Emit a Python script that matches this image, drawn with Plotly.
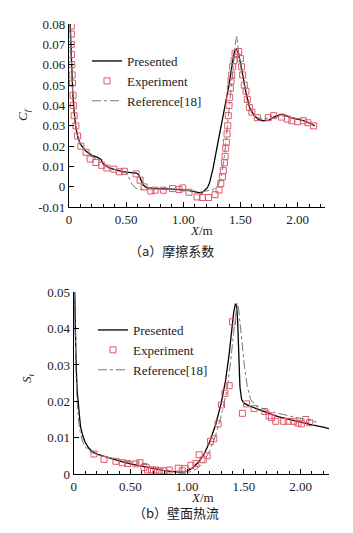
import plotly.graph_objects as go

# ---------------- (a) skin friction coefficient ----------------
cf_pres_x = [0.004, 0.012, 0.022, 0.032, 0.045, 0.06, 0.08, 0.1, 0.12, 0.15, 0.2, 0.25, 0.28, 0.3, 0.35,
             0.4, 0.45, 0.5, 0.55, 0.59, 0.61, 0.63, 0.65, 0.68, 0.75, 0.85, 0.95, 1.05, 1.12, 1.16,
             1.18, 1.21, 1.23, 1.26, 1.29, 1.32, 1.36, 1.40, 1.43, 1.45, 1.465, 1.48, 1.5, 1.52,
             1.55, 1.58, 1.62, 1.66, 1.7, 1.75, 1.8, 1.85, 1.88, 1.92, 1.97, 2.02, 2.07, 2.12, 2.15]
cf_pres_y = [0.09, 0.076, 0.06, 0.047, 0.037, 0.029, 0.024, 0.021, 0.0195, 0.0175, 0.0155, 0.0145, 0.0135,
             0.0112, 0.0094, 0.0085, 0.0078, 0.0073, 0.0069, 0.0068, 0.006, 0.0035, 0.0008, -0.0003,
             -0.0008, -0.001, -0.0012, -0.0018, -0.0025, -0.003, -0.002, -0.0005, 0.002, 0.009, 0.018,
             0.027, 0.038, 0.05, 0.061, 0.067, 0.0675, 0.066, 0.061, 0.055, 0.046, 0.039, 0.035,
             0.033, 0.0325, 0.0328, 0.0345, 0.0355, 0.0355, 0.0345, 0.0335, 0.033, 0.0322, 0.031, 0.030]

cf_exp_x = [0.02, 0.02, 0.02, 0.022, 0.025, 0.028, 0.03, 0.035, 0.038, 0.045, 0.06, 0.075, 0.104, 0.15,
            0.185, 0.235, 0.287, 0.331, 0.392, 0.44, 0.485, 0.587, 0.622, 0.657, 0.716, 0.754, 0.826,
            0.905, 0.963, 0.995, 1.05, 1.12, 1.167, 1.22, 1.278, 1.313, 1.328, 1.342, 1.35, 1.36,
            1.366, 1.371, 1.377, 1.383, 1.389, 1.394, 1.40, 1.406, 1.412, 1.418, 1.424, 1.432, 1.444,
            1.453, 1.485, 1.50, 1.51, 1.52, 1.534, 1.549, 1.56, 1.578, 1.60, 1.648, 1.744, 1.79, 1.86,
            1.91, 1.95, 2.0, 2.05, 2.09, 2.14]
cf_exp_y = [0.079, 0.075, 0.070, 0.065, 0.060, 0.055, 0.051, 0.045, 0.040, 0.035, 0.030, 0.025, 0.020,
            0.017, 0.0137, 0.012, 0.0106, 0.0093, 0.0087, 0.0074, 0.0077, 0.0064, 0.0033, 0.0, -0.002,
            -0.0016, -0.0016, -0.0008, -0.0013, -0.0005, -0.0026, -0.0049, -0.0052, -0.0052, -0.0038,
            -0.0015, 0.0016, 0.005, 0.008, 0.0118, 0.015, 0.019, 0.022, 0.026, 0.030, 0.035, 0.040,
            0.044, 0.0485, 0.052, 0.055, 0.059, 0.062, 0.0656, 0.0665, 0.063, 0.059, 0.055, 0.050,
            0.047, 0.043, 0.039, 0.0367, 0.034, 0.034, 0.035, 0.0343, 0.0333, 0.0325, 0.032, 0.0325,
            0.0315, 0.030]

cf_ref_x = [0.004, 0.012, 0.022, 0.035, 0.05, 0.065, 0.08, 0.1, 0.15, 0.2, 0.25, 0.3, 0.35, 0.4, 0.45,
            0.5, 0.52, 0.55, 0.58, 0.62, 0.7, 0.8, 0.9, 1.0, 1.1, 1.15, 1.2, 1.25, 1.3, 1.33, 1.36,
            1.39, 1.42, 1.44, 1.46, 1.47, 1.48, 1.5, 1.53, 1.56, 1.6, 1.65, 1.7, 1.8, 1.85, 1.9, 2.0,
            2.1, 2.15]
cf_ref_y = [0.085, 0.072, 0.057, 0.042, 0.033, 0.027, 0.024, 0.0205, 0.017, 0.015, 0.0135, 0.011, 0.0093,
            0.0085, 0.0078, 0.007, 0.005, 0.0015, -0.0005, -0.0012, -0.001, -0.0012, -0.0012, -0.0015,
            -0.002, -0.0025, -0.002, -0.0015, 0.0, 0.005, 0.015, 0.033, 0.05, 0.062, 0.072, 0.074,
            0.068, 0.06, 0.05, 0.042, 0.036, 0.034, 0.0335, 0.034, 0.035, 0.0345, 0.0335, 0.0315, 0.0305]

# ---------------- (b) wall heat flux (Stanton number) ----------------
st_pres_x = [0.003, 0.01, 0.02, 0.03, 0.045, 0.06, 0.08, 0.1, 0.13, 0.17, 0.22, 0.3, 0.4, 0.5, 0.6, 0.7,
             0.8, 0.9, 0.95, 1.0, 1.05, 1.1, 1.15, 1.2, 1.25, 1.3, 1.34, 1.37, 1.39, 1.41, 1.425, 1.435,
             1.445, 1.455, 1.465, 1.48, 1.5, 1.55, 1.6, 1.7, 1.8, 1.9, 2.0, 2.1, 2.2, 2.25]
st_pres_y = [0.06, 0.045, 0.032, 0.023, 0.017, 0.013, 0.0105, 0.0088, 0.0072, 0.006, 0.0053, 0.0045,
             0.0036, 0.0028, 0.0021, 0.0014, 0.0009, 0.0006, 0.0005, 0.0008, 0.0017, 0.0033, 0.0055,
             0.009, 0.0135, 0.0195, 0.026, 0.033, 0.039, 0.0445, 0.0468, 0.0465, 0.042, 0.032, 0.024,
             0.0205, 0.0195, 0.0187, 0.0181, 0.0169, 0.0158, 0.015, 0.0142, 0.0135, 0.0129, 0.0125]

st_exp_x = [0.179, 0.267, 0.372, 0.428, 0.475, 0.548, 0.584, 0.619, 0.651, 0.686, 0.724, 0.754, 0.795,
            0.842, 0.921, 0.956, 0.98, 1.033, 1.077, 1.106, 1.141, 1.176, 1.206, 1.235, 1.273, 1.303,
            1.332, 1.37, 1.4, 1.487, 1.523, 1.59, 1.684, 1.722, 1.743, 1.781, 1.851, 1.89, 1.939,
            1.977, 2.007, 2.045, 2.08]
st_exp_y = [0.0055, 0.004, 0.0035, 0.0031, 0.0029, 0.0028, 0.0031, 0.0018, 0.0011, 0.0011, 0.0011,
            0.0009, 0.0009, 0.0011, 0.0016, 0.0009, 0.0015, 0.0024, 0.0029, 0.0053, 0.0039, 0.005,
            0.009, 0.0097, 0.0138, 0.019, 0.0222, 0.0243, 0.0419, 0.0167, 0.0193, 0.018, 0.0172,
            0.016, 0.0155, 0.0145, 0.0145, 0.0145, 0.0145, 0.014, 0.0138, 0.015, 0.0141]

st_ref_x = [0.003, 0.01, 0.02, 0.03, 0.045, 0.06, 0.08, 0.1, 0.13, 0.17, 0.22, 0.3, 0.4, 0.5, 0.6, 0.65,
            0.7, 0.8, 0.9, 1.0, 1.05, 1.1, 1.15, 1.2, 1.25, 1.3, 1.35, 1.38, 1.41, 1.43, 1.44, 1.45,
            1.47, 1.5, 1.53, 1.56, 1.6, 1.7, 1.8, 1.9, 2.0, 2.1, 2.14]
st_ref_y = [0.055, 0.04, 0.028, 0.02, 0.014, 0.011, 0.0088, 0.0075, 0.0065, 0.0058, 0.0052, 0.0046,
            0.0039, 0.0033, 0.0029, 0.0028, 0.0018, 0.0009, 0.0006, 0.0004, 0.0008, 0.0018, 0.0035,
            0.0065, 0.0105, 0.016, 0.023, 0.03, 0.039, 0.045, 0.047, 0.0465, 0.04, 0.031, 0.024,
            0.0205, 0.019, 0.0175, 0.0167, 0.016, 0.0153, 0.0146, 0.0143]

names = ["Presented", "Experiment", "Reference[18]"]
cf_ticks = [-0.01, 0, 0.01, 0.02, 0.03, 0.04, 0.05, 0.06, 0.07, 0.08]
cf_ticktext = ["-0.01", "0", "0.01", "0.02", "0.03", "0.04", "0.05", "0.06", "0.07", "0.08"]
st_ticks = [0, 0.01, 0.02, 0.03, 0.04, 0.05]
st_ticktext = ["0", "0.01", "0.02", "0.03", "0.04", "0.05"]
x_ticks = [0, 0.5, 1.0, 1.5, 2.0]
x_ticktext = ["0", "0.50", "1.00", "1.50", "2.00"]

SERIF = "Liberation Serif"
RED = "#e0596a"
fig = go.Figure()

def add_set(px, py, ex, ey, rx, ry, xa, ya, leg):
    fig.add_trace(go.Scatter(x=px, y=py, mode="lines", name=names[0], xaxis=xa, yaxis=ya, legend=leg,
                             line=dict(color="black", width=1.3)))
    fig.add_trace(go.Scatter(x=ex, y=ey, mode="markers", name=names[1], xaxis=xa, yaxis=ya, legend=leg,
                             marker=dict(symbol="square-open", size=6, color=RED, line=dict(width=1))))
    fig.add_trace(go.Scatter(x=rx, y=ry, mode="lines", name=names[2], xaxis=xa, yaxis=ya, legend=leg,
                             line=dict(color="#777777", width=1, dash="dashdot")))

add_set(cf_pres_x, cf_pres_y, cf_exp_x, cf_exp_y, cf_ref_x, cf_ref_y, "x", "y", "legend")
add_set(st_pres_x, st_pres_y, st_exp_x, st_exp_y, st_ref_x, st_ref_y, "x2", "y2", "legend2")

# the page body adds an 8 px margin on every side, so the figure is sized so the page
# fits the window exactly, and every position is shifted to compensate
OFF = 8
W, H = 353 - 2 * OFF, 533 - 2 * OFF
def px_x(v): return (v - OFF) / W
def px_y(v): return 1 - (v - OFF) / H

axis_common = dict(showline=True, linecolor="black", linewidth=1.3, ticks="inside", ticklen=5,
                   tickcolor="black", tickwidth=1, showgrid=False, zeroline=False, automargin=False,
                   tickfont=dict(family=SERIF, size=13, color="#222"), mirror=False)

fig.update_layout(
    template="none",
    width=W, height=H, margin=dict(l=0, r=0, t=0, b=0, pad=0), autosize=False,
    paper_bgcolor="white", plot_bgcolor="white",
    xaxis=dict(domain=[px_x(69), px_x(325)], range=[0, 2.24], anchor="y",
               tickvals=x_ticks, ticktext=x_ticktext,
               minor=dict(ticks="inside", dtick=0.1, ticklen=3, tickcolor="black", showgrid=False), **axis_common),
    yaxis=dict(domain=[px_y(207.3), px_y(24)], range=[-0.01, 0.08], anchor="x",
               tickvals=cf_ticks, ticktext=cf_ticktext, **axis_common),
    xaxis2=dict(domain=[px_x(73.7), px_x(329)], range=[0, 2.25], anchor="y2",
                tickvals=x_ticks, ticktext=x_ticktext,
                minor=dict(ticks="inside", dtick=0.1, ticklen=3, tickcolor="black", showgrid=False), **axis_common),
    yaxis2=dict(domain=[px_y(474), px_y(292.3)], range=[0, 0.05], anchor="x2",
                tickvals=st_ticks, ticktext=st_ticktext, **axis_common),
    legend=dict(x=px_x(87), y=px_y(46), xanchor="left", yanchor="top", bgcolor="rgba(0,0,0,0)",
                font=dict(family=SERIF, size=13, color="#222"), itemwidth=30, tracegroupgap=0,
                borderwidth=0),
    legend2=dict(x=px_x(93), y=px_y(315), xanchor="left", yanchor="top", bgcolor="rgba(0,0,0,0)",
                 font=dict(family=SERIF, size=13, color="#222"), itemwidth=30, tracegroupgap=0,
                 borderwidth=0),
    showlegend=True,
)

ann = [
    dict(text="<i>X</i>/m", x=px_x(201), y=px_y(231)),
    dict(text="<i>X</i>/m", x=px_x(202), y=px_y(498)),
    dict(text="<i>C</i><sub><i>f</i></sub>", x=px_x(23), y=px_y(115), textangle=-90),
    dict(text="<i>S</i><sub><i>t</i></sub>", x=px_x(27), y=px_y(378), textangle=-90),
]
for a in ann:
    fig.add_annotation(xref="paper", yref="paper", showarrow=False, xanchor="center", yanchor="middle",
                       font=dict(family=SERIF, size=13, color="#222"), **a)

fig.add_annotation(text="（a）摩擦系数", x=px_x(171), y=px_y(251), xref="paper", yref="paper",
                   showarrow=False, yanchor="middle",
                   font=dict(family="Noto Sans CJK SC", size=13, color="#222"))
fig.add_annotation(text="（b）壁面热流", x=px_x(176), y=px_y(524), xref="paper", yref="paper",
                   showarrow=False, yanchor="bottom",
                   font=dict(family="Noto Sans CJK SC", size=13, color="#222"))

fig.write_html("out.html")
